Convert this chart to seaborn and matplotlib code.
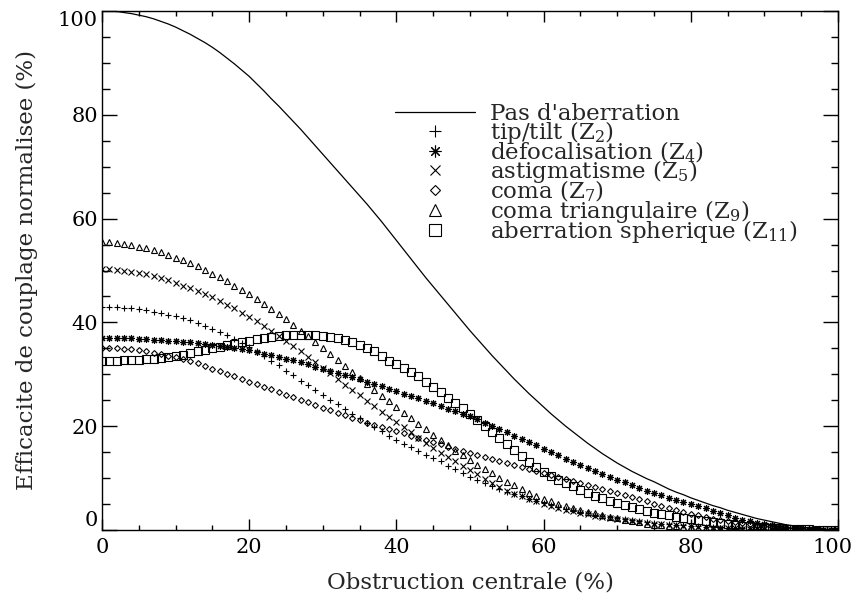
import seaborn as sns
import matplotlib
matplotlib.use("Agg")
import matplotlib.pyplot as plt
from matplotlib.ticker import MultipleLocator
from matplotlib.transforms import ScaledTranslation

sns.set_style("ticks")
plt.rcParams['font.family'] = ['DejaVu Serif']
plt.rcParams['mathtext.fontset'] = 'dejavuserif'

# obstruction centrale (%), one point every 1 %
obstruction = list(range(0, 101))

pas_aberration = [
    100.0, 100.0, 99.9, 99.7, 99.5, 99.2, 98.9, 98.5, 98.0, 97.5,
    96.9, 96.2, 95.5, 94.7, 93.9, 93.0, 92.0, 90.9, 89.8, 88.6,
    87.4, 86.0, 84.6, 83.1, 81.7, 80.2, 78.7, 77.2, 75.6, 74.0,
    72.4, 70.8, 69.2, 67.6, 66.0, 64.4, 62.8, 61.1, 59.4, 57.6,
    55.8, 54.0, 52.2, 50.4, 48.6, 46.9, 45.2, 43.5, 41.8, 40.1,
    38.4, 36.8, 35.2, 33.6, 32.1, 30.6, 29.1, 27.7, 26.3, 25.0,
    23.7, 22.4, 21.2, 20.0, 18.9, 17.8, 16.7, 15.7, 14.7, 13.8,
    12.9, 12.1, 11.3, 10.6, 9.9, 9.3, 8.6, 7.9, 7.3, 6.8,
    6.2, 5.7, 5.2, 4.7, 4.3, 3.8, 3.4, 3.0, 2.6, 2.2,
    1.9, 1.6, 1.3, 1.0, 0.8, 0.6, 0.4, 0.2, 0.1, 0.05, 0.0]

tip_tilt = [
    43.0, 43.0, 42.9, 42.8, 42.7, 42.5, 42.3, 42.1, 41.8, 41.5,
    41.2, 40.8, 40.4, 39.9, 39.4, 38.8, 38.2, 37.5, 36.8, 36.0,
    35.2, 34.4, 33.5, 32.6, 31.7, 30.7, 29.8, 28.8, 27.9, 26.9,
    26.0, 25.1, 24.2, 23.3, 22.4, 21.5, 20.6, 19.8, 19.0, 18.2,
    17.4, 16.6, 15.9, 15.2, 14.5, 13.9, 13.2, 12.4, 11.7, 11.0,
    10.3, 9.7, 9.0, 8.4, 7.9, 7.4, 6.9, 6.5, 6.0, 5.6,
    5.2, 4.8, 4.4, 4.1, 3.8, 3.5, 3.2, 2.9, 2.7, 2.5,
    2.3, 2.1, 1.9, 1.7, 1.5, 1.4, 1.2, 1.1, 1.0, 0.9,
    0.8, 0.7, 0.6, 0.5, 0.45, 0.4, 0.35, 0.3, 0.25, 0.2,
    0.17, 0.14, 0.11, 0.09, 0.07, 0.05, 0.04, 0.03, 0.02, 0.01, 0.0]

defocalisation = [
    37.0, 37.0, 37.0, 36.9, 36.9, 36.8, 36.8, 36.7, 36.6, 36.5,
    36.4, 36.3, 36.2, 36.0, 35.9, 35.7, 35.5, 35.3, 35.1, 34.8,
    34.6, 34.3, 34.0, 33.7, 33.4, 33.0, 32.7, 32.3, 31.9, 31.5,
    31.1, 30.7, 30.3, 29.9, 29.5, 29.0, 28.6, 28.1, 27.7, 27.2,
    26.8, 26.3, 25.8, 25.4, 24.9, 24.4, 23.9, 23.4, 22.9, 22.4,
    22.0, 21.4, 20.7, 20.0, 19.4, 18.8, 18.2, 17.6, 17.0, 16.3,
    15.6, 15.0, 14.4, 13.7, 13.1, 12.5, 11.9, 11.3, 10.8, 10.2,
    9.7, 9.2, 8.6, 8.1, 7.6, 7.1, 6.7, 6.2, 5.8, 5.4,
    5.0, 4.6, 4.2, 3.6, 3.2, 2.8, 2.4, 2.0, 1.7, 1.4,
    1.1, 0.9, 0.7, 0.5, 0.4, 0.3, 0.2, 0.1, 0.05, 0.02, 0.0]

astigmatisme = [
    50.2, 50.2, 50.1, 50.0, 49.8, 49.6, 49.3, 48.9, 48.5, 48.1,
    47.6, 47.1, 46.6, 46.0, 45.4, 44.8, 44.1, 43.4, 42.7, 41.9,
    41.1, 40.3, 39.4, 38.4, 37.4, 36.4, 35.4, 34.4, 33.4, 32.3,
    31.2, 30.2, 29.1, 28.0, 27.0, 26.0, 24.9, 23.9, 22.8, 21.8,
    20.8, 19.8, 18.8, 17.8, 16.8, 15.8, 14.9, 14.0, 13.2, 12.4,
    11.6, 10.7, 9.9, 9.0, 8.2, 7.6, 7.0, 6.5, 6.0, 5.5,
    5.0, 4.6, 4.2, 3.9, 3.6, 3.3, 3.0, 2.7, 2.5, 2.3,
    2.1, 1.9, 1.7, 1.5, 1.4, 1.2, 1.1, 1.0, 0.9, 0.8,
    0.7, 0.6, 0.5, 0.45, 0.4, 0.35, 0.3, 0.25, 0.2, 0.17,
    0.14, 0.11, 0.09, 0.07, 0.05, 0.04, 0.03, 0.02, 0.01, 0.0, 0.0]

coma = [
    35.1, 35.1, 35.0, 34.9, 34.8, 34.6, 34.4, 34.2, 33.9, 33.6,
    33.3, 32.9, 32.5, 32.1, 31.6, 31.1, 30.6, 30.1, 29.6, 29.1,
    28.6, 28.1, 27.6, 27.1, 26.6, 26.1, 25.6, 25.1, 24.6, 24.1,
    23.6, 23.1, 22.6, 22.1, 21.6, 21.1, 20.6, 20.2, 19.8, 19.4,
    19.0, 18.6, 18.2, 17.8, 17.3, 16.9, 16.5, 16.0, 15.6, 15.2,
    14.8, 14.4, 14.0, 13.6, 13.3, 12.9, 12.5, 12.1, 11.7, 11.3,
    11.0, 10.6, 10.2, 9.9, 9.5, 9.1, 8.7, 8.3, 7.9, 7.5,
    7.1, 6.7, 6.3, 5.9, 5.5, 5.1, 4.7, 4.3, 3.9, 3.5,
    3.1, 2.8, 2.5, 2.2, 1.9, 1.7, 1.5, 1.3, 1.1, 0.9,
    0.75, 0.6, 0.5, 0.4, 0.3, 0.22, 0.15, 0.1, 0.05, 0.02, 0.0]

coma_triangulaire = [
    55.4, 55.4, 55.3, 55.1, 54.9, 54.6, 54.3, 53.9, 53.5, 53.0,
    52.5, 52.0, 51.4, 50.8, 50.1, 49.4, 48.7, 47.9, 47.1, 46.3,
    45.4, 44.5, 43.6, 42.6, 41.6, 40.6, 39.5, 38.4, 37.3, 36.2,
    35.1, 33.9, 32.7, 31.6, 30.4, 29.3, 28.2, 27.0, 25.9, 24.8,
    23.7, 22.6, 21.5, 20.4, 19.4, 18.3, 17.3, 16.3, 15.3, 14.4,
    13.5, 12.6, 11.7, 10.9, 10.1, 9.3, 8.6, 7.9, 7.2, 6.6,
    6.0, 5.5, 5.0, 4.6, 4.2, 3.9, 3.5, 3.2, 2.9, 2.6,
    2.3, 2.0, 1.7, 1.5, 1.2, 1.0, 0.9, 0.8, 0.7, 0.6,
    0.5, 0.45, 0.4, 0.35, 0.3, 0.25, 0.2, 0.17, 0.14, 0.12,
    0.1, 0.08, 0.06, 0.05, 0.04, 0.03, 0.02, 0.01, 0.0, 0.0, 0.0]

aberration_spherique = [
    32.6, 32.6, 32.6, 32.7, 32.7, 32.8, 32.9, 33.0, 33.2, 33.4,
    33.6, 33.8, 34.1, 34.4, 34.7, 35.0, 35.3, 35.6, 35.9, 36.2,
    36.5, 36.8, 37.0, 37.2, 37.4, 37.5, 37.6, 37.6, 37.6, 37.5,
    37.4, 37.2, 36.9, 36.6, 36.2, 35.7, 35.1, 34.4, 33.6, 32.5,
    31.9, 31.2, 30.4, 29.6, 28.6, 27.6, 26.5, 25.5, 24.5, 23.5,
    22.4, 21.2, 20.0, 18.9, 17.8, 16.6, 15.4, 14.2, 13.1, 12.1,
    11.2, 10.4, 9.7, 9.0, 8.4, 7.8, 7.2, 6.6, 6.1, 5.6,
    5.2, 4.8, 4.4, 4.0, 3.6, 3.3, 3.0, 2.8, 2.6, 2.4,
    2.2, 2.0, 1.8, 1.6, 1.4, 1.2, 1.0, 0.85, 0.7, 0.6,
    0.5, 0.4, 0.3, 0.25, 0.2, 0.15, 0.1, 0.07, 0.04, 0.02, 0.0]

series = [
    ("tip/tilt (Z$_2$)", tip_tilt, "+", 5.0),
    ("defocalisation (Z$_4$)", defocalisation, (8, 2, 0), 5.0),
    ("astigmatisme (Z$_5$)", astigmatisme, "x", 4.3),
    ("coma (Z$_7$)", coma, "D", 3.0),
    ("coma triangulaire (Z$_9$)", coma_triangulaire, "^", 5.0),
    ("aberration spherique (Z$_{11}$)", aberration_spherique, "s", 5.5),
]

ticks = [0, 20, 40, 60, 80, 100]

fig = plt.figure(figsize=(8.56, 5.96), dpi=100)
ax = fig.add_axes([102 / 856, 66 / 596, 736 / 856, 519 / 596])

sns.lineplot(x=obstruction, y=pas_aberration, ax=ax, color="black",
             linewidth=0.9, label="Pas d'aberration")
for label, vals, m, ms in series:
    sns.lineplot(x=obstruction, y=vals, ax=ax, color="black", linestyle="",
                 marker=m, markersize=ms, markerfacecolor="none",
                 markeredgecolor="black", markeredgewidth=0.8, label=label)

ax.set_xlim(0, 100)
ax.set_ylim(0, 100)
ax.set_xticks(ticks)
ax.set_yticks(ticks)
ax.xaxis.set_minor_locator(MultipleLocator(5))
ax.yaxis.set_minor_locator(MultipleLocator(5))
ax.tick_params(which="both", direction="in", top=True, right=True,
               labelsize=15, colors="black")
ax.tick_params(axis="x", which="major", length=7.6, width=1.0, pad=6)
ax.tick_params(axis="x", which="minor", length=3.8, width=1.0)
ax.tick_params(axis="y", which="major", length=10.8, width=1.0, pad=3)
ax.tick_params(axis="y", which="minor", length=5.4, width=1.0)

# end labels kept inside the axis span, as in the original
ylabs = ax.get_yticklabels()
ylabs[0].set_verticalalignment("bottom")
ylabs[-1].set_verticalalignment("top")
xlabs = ax.get_xticklabels()
xlabs[-1].set_transform(xlabs[-1].get_transform()
                        + ScaledTranslation(-0.055, 0, fig.dpi_scale_trans))

for s in ax.spines.values():
    s.set_color("black")
    s.set_linewidth(1.0)

ax.set_xlabel("Obstruction centrale (%)", fontsize=16.5, labelpad=10)
ax.set_ylabel("Efficacite de couplage normalisee (%)", fontsize=16.5,
              labelpad=14)

ax.legend(loc="upper left", bbox_to_anchor=(0.398, 0.822), frameon=False,
          fontsize=16.5, handlelength=3.5, handletextpad=0.64,
          labelspacing=-0.28, markerscale=1.7, borderpad=0, borderaxespad=0)

fig.savefig("out.png", dpi=100)
